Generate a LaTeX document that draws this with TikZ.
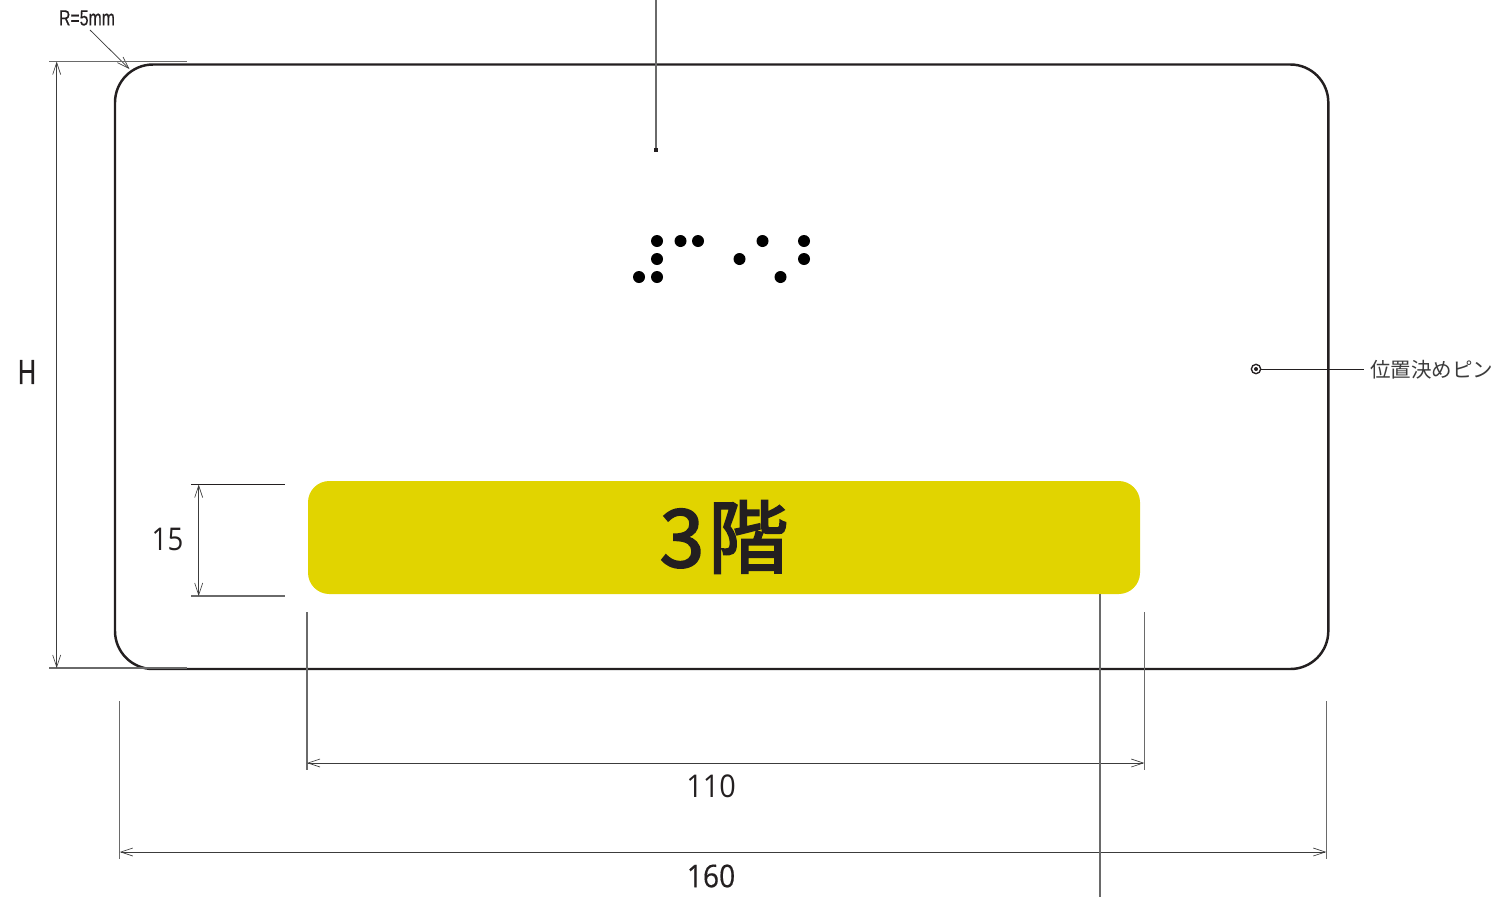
\documentclass[tikz,border=0pt]{standalone}
\usepackage{fontspec}
\usetikzlibrary{arrows.meta}
\setmainfont{Open Sans}
\newfontfamily\cjk{Noto Sans CJK JP}
\newfontfamily\liber{Liberation Sans}
\definecolor{ink}{HTML}{231F20}
\definecolor{dimgray}{HTML}{6A6A6A}
\definecolor{dimdark}{HTML}{3C3C3C}
\definecolor{plate}{HTML}{E1D400}
\tikzset{
  x=0.75pt,y=-0.75pt,
  plateline/.style={draw=ink,line width=1.85pt},
  ext/.style={draw=dimgray,line width=0.85pt},
  extdark/.style={draw=ink,line width=0.6pt},
  thin dim/.style={draw=dimdark,line width=0.55pt},
  dimtip/.style={{Straight Barb[length=9pt,width=6pt,line width=0.5pt]}-{Straight Barb[length=9pt,width=6pt,line width=0.5pt]}},
  onetip/.style={-{Straight Barb[length=9pt,width=6pt,line width=0.5pt]}},
  dimtext/.style={inner sep=0pt,text=ink},
  dot/.style={circle,fill=black,inner sep=0pt,minimum size=9pt},
  pt/.style={inner sep=0pt,minimum size=0pt}
}
\newcommand{\condnum}[1]{\fontsize{23.5pt}{24pt}\selectfont\addfontfeature{FakeStretch=0.92}#1}
\begin{document}
\begin{tikzpicture}
\useasboundingbox (0,0) rectangle (1494,897);
% plate
\node[pt] (pTL) at (115,64.5) {};
\node[pt] (pBR) at (1328.3,669) {};
\draw[plateline,rounded corners=28.5pt] (pTL.center) rectangle (pBR.center);
% yellow band
\node[pt] (bTL) at (308,481) {};
\node[pt] (bBR) at (1140,594) {};
\fill[plate,rounded corners=16pt] (bTL.center) rectangle (bBR.center);
\node[inner sep=0pt,text=ink] (band) at (724,537) {\fontsize{60pt}{60pt}\cjk\addfontfeature{FakeBold=2.5}3\kern3pt 階};
% braille
\foreach \n/\a/\b in {d1/657/241,d2/680.5/241,d3/698/241,d4/657/259,d5/639/277,d6/657/277,d7/762.5/241,d8/739.5/259,d9/780.5/277,d10/804/241,d11/804/259}
  \node[dot] (\n) at (\a,\b) {};
% top leader
\coordinate (topEnd) at (656,0);
\node[pt,fill=ink,minimum size=2.5pt] (topDot) at (656,150) {};
\draw[ext] (topEnd) -- (topDot);
% pin
\node[circle,draw=ink,line width=1pt,inner sep=0pt,minimum size=7pt] (pin) at (1256,369) {};
\node[circle,fill=ink,inner sep=0pt,minimum size=3pt] (pinc) at (pin.center) {};
\node[anchor=west,inner sep=0pt,text=dimdark,font=\fontsize{15.4pt}{16pt}\cjk] (pinlabel) at (1370,369.5) {位置決めピン};
\coordinate (pinEnd) at (1364,369);
\draw[extdark] (pin.east) -- (pinEnd);
% R label
\node[inner sep=0pt,text=ink] (rlabel) at (87,18) {\liber\fontsize{16.5pt}{17pt}\selectfont\addfontfeature{FakeStretch=0.72,FakeBold=0.3}R=5mm};
\coordinate (rStart) at (90,30);
\coordinate (rEnd) at (129.5,69);
\draw[thin dim,onetip] (rStart) -- (rEnd);
% H dimension
\coordinate (hTL) at (49,61.5);
\coordinate (hTR) at (187,61.5);
\coordinate (hBL) at (49,668);
\coordinate (hBR) at (187,668);
\draw[ext] (hTL) -- (hTR);
\draw[ext] (hBL) -- (hBR);
\coordinate (hA) at (56.7,61.5);
\coordinate (hB) at (56.7,668);
\draw[thin dim,dimtip] (hA) -- (hB);
\node[inner sep=0pt,text=ink] (hlabel) at (27,372) {\liber\fontsize{26pt}{26pt}\selectfont\addfontfeature{FakeStretch=0.72,FakeBold=0.6}H};
% 15 dimension
\coordinate (aL) at (191,484.5);
\coordinate (aR) at (285,484.5);
\coordinate (cL) at (191,596);
\coordinate (cR) at (285,596);
\draw[extdark] (aL) -- (aR);
\draw[ext] (cL) -- (cR);
\coordinate (vA) at (198.7,484.5);
\coordinate (vB) at (198.7,596);
\draw[thin dim,dimtip] (vA) -- (vB);
\node[dimtext] (l15) at (167.5,539) {\fontsize{23.5pt}{24pt}\selectfont\addfontfeature{FakeStretch=0.88}15};
% 110 dimension
\coordinate (eL1) at (307,612);
\coordinate (eL2) at (307,770);
\coordinate (eR1) at (1144.3,612);
\coordinate (eR2) at (1144.3,770);
\draw[ext] (eL1) -- (eL2);
\draw[ext] (eR1) -- (eR2);
\coordinate (eA) at (307,763);
\coordinate (eB) at (1144.3,763);
\draw[thin dim,dimtip] (eA) -- (eB);
\node[dimtext] (l110) at (711,786) {\condnum{110}};
% 160 dimension
\coordinate (fL1) at (119.7,701);
\coordinate (fL2) at (119.7,859);
\coordinate (fR1) at (1326.3,701);
\coordinate (fR2) at (1326.3,859);
\draw[ext] (fL1) -- (fL2);
\draw[ext] (fR1) -- (fR2);
\coordinate (fA) at (119.7,852);
\coordinate (fB) at (1326.3,852);
\draw[thin dim,dimtip] (fA) -- (fB);
\node[dimtext] (l160) at (711,876) {\fontsize{23.5pt}{24pt}\selectfont\addfontfeature{FakeStretch=0.9,FakeBold=0.4}160};
% lower leader
\coordinate (lowTop) at (1100,594);
\coordinate (lowEnd) at (1100,897);
\draw[ext] (lowTop) -- (lowEnd);
\end{tikzpicture}
\end{document}
